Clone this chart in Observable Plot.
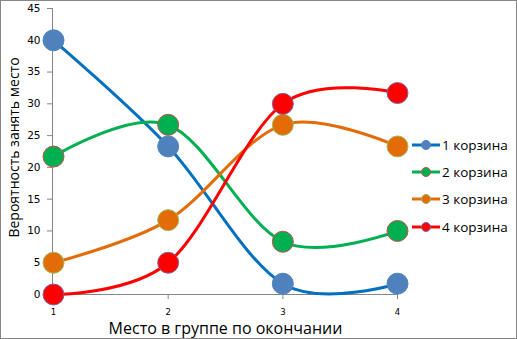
<!DOCTYPE html>
<html>
<head>
<meta charset="utf-8">
<script src="https://cdn.jsdelivr.net/npm/d3@7"></script>
<script src="https://cdn.jsdelivr.net/npm/@observablehq/plot@0.6"></script>
<style>
  html, body { margin: 0; padding: 0; background: #fff; }
  #wrap { position: relative; width: 517px; height: 339px; overflow: hidden; background: #fff; }
  #border { position: absolute; left: 0; top: 0; width: 517px; height: 339px; box-sizing: border-box; border: 1px solid #868686; pointer-events: none; }
  #chart { position: absolute; left: 0; top: 0; }
  #legend { position: absolute; left: 411px; top: 131px; font-family: "Open Sans", sans-serif; font-size: 13.5px; color: #000; }
  .row { display: flex; align-items: center; height: 27.3px; }
  .row svg { display: block; margin-right: 1px; }
</style>
</head>
<body>
<div id="wrap">
  <div id="chart"></div>
  <div id="legend"></div>
  <div id="border"></div>
</div>
<script>
// ---- data ----
const places = [1, 2, 3, 4];
const seriesNames = ["1 корзина", "2 корзина", "3 корзина", "4 корзина"];
const basket1 = [40, 23.3, 1.7, 1.7];
const basket2 = [21.7, 26.7, 8.3, 10];
const basket3 = [5, 11.7, 26.7, 23.3];
const basket4 = [0, 5, 30, 31.7];
const yTicks = [0, 5, 10, 15, 20, 25, 30, 35, 40, 45];
const xTitle = "Место в группе по окончании";
const yTitle = "Вероятность занять место";

// ---- styles ----
const lineColors = ["#0070C0", "#00B050", "#E36C09", "#FF0000"];
const markerFill = ["#4F81BD", "#00B050", "#E36C09", "#FF0000"];
const markerStroke = ["#4F81BD", "#C0504D", "#9BBB59", "#8064A2"];
const axisGray = "#868686";

const allSeries = [basket1, basket2, basket3, basket4];
const rows = allSeries.map((vals, si) => places.map((p, i) => ({place: p, value: vals[i], series: seriesNames[si], si})));

const seriesMarks = rows.flatMap((data, si) => [
  Plot.line(data, {x: "place", y: "value", curve: "cardinal", stroke: lineColors[si], strokeWidth: 3}),
  Plot.dot(data, {x: "place", y: "value", r: 10.5, fill: markerFill[si], stroke: markerStroke[si], strokeWidth: 1})
]);

const chart = Plot.plot({
  width: 517,
  height: 339,
  marginLeft: 53,
  marginRight: 120,
  marginTop: 8,
  marginBottom: 45,
  style: {fontFamily: "DejaVu Sans, sans-serif", background: "transparent", overflow: "visible"},
  x: {domain: [1, 4]},
  y: {domain: [0, 45]},
  marks: [
    Plot.ruleX([1], {stroke: axisGray, dx: -1}),
    Plot.ruleY([0], {stroke: axisGray}),
    Plot.axisY(yTicks, {tickSize: 5, tickPadding: 7, fontSize: 10.5, stroke: axisGray, fill: "#000", dx: -1, label: null, tickFormat: d => String(d)}),
    Plot.axisX(places, {tickSize: 5, tickPadding: 9, fontSize: 8.5, stroke: axisGray, fill: "#000", label: null, tickFormat: d => String(d)}),
    Plot.text([xTitle], {frameAnchor: "bottom", lineAnchor: "bottom", dy: 39, fontSize: 16, fontFamily: "Open Sans, sans-serif", fill: "#000", text: d => d}),
    Plot.text([yTitle], {frameAnchor: "left", textAnchor: "middle", rotate: -90, dx: -39, dy: -4, fontSize: 14, fontFamily: "Open Sans, sans-serif", fill: "#000", text: d => d}),
    ...seriesMarks
  ]
});
document.getElementById("chart").appendChild(chart);

// ---- legend ----
const legend = document.getElementById("legend");
seriesNames.forEach((name, i) => {
  const row = document.createElement("div");
  row.className = "row";
  const ns = "http://www.w3.org/2000/svg";
  const svg = document.createElementNS(ns, "svg");
  svg.setAttribute("width", 30);
  svg.setAttribute("height", 12);
  const ln = document.createElementNS(ns, "line");
  ln.setAttribute("x1", 1); ln.setAttribute("x2", 29);
  ln.setAttribute("y1", 6); ln.setAttribute("y2", 6);
  ln.setAttribute("stroke", lineColors[i]); ln.setAttribute("stroke-width", 3);
  const c = document.createElementNS(ns, "circle");
  c.setAttribute("cx", 15); c.setAttribute("cy", 6); c.setAttribute("r", 4.5);
  c.setAttribute("fill", markerFill[i]); c.setAttribute("stroke", markerStroke[i]);
  svg.appendChild(ln); svg.appendChild(c);
  const t = document.createElement("span");
  t.textContent = name;
  row.appendChild(svg); row.appendChild(t);
  legend.appendChild(row);
});
</script>
</body>
</html>
